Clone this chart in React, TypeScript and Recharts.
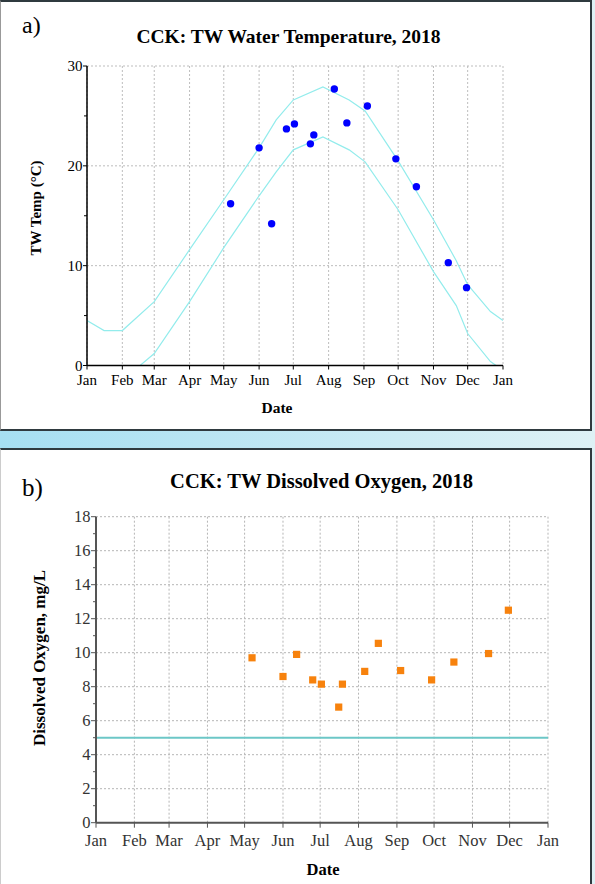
import React from "react"
import { ComposedChart, Line, Scatter, XAxis, YAxis, CartesianGrid, ReferenceLine } from "recharts"

const FONT = '"Liberation Serif", "Times New Roman", serif'

// month starts in day-of-year (2018), closing Jan = next year
const monthTicks = [0, 31, 59, 90, 120, 151, 181, 212, 243, 273, 304, 334, 365]
const monthNames = ["Jan", "Feb", "Mar", "Apr", "May", "Jun", "Jul", "Aug", "Sep", "Oct", "Nov", "Dec", "Jan"]

// sampling dates (day of year)
const sampleDays = [126, 151, 162, 175, 182, 196, 199, 217, 228, 246, 271, 289, 317, 333]
const waterTemp = [16.2, 21.8, 14.2, 23.7, 24.2, 22.2, 23.1, 27.7, 24.3, 26.0, 20.7, 17.9, 10.3, 7.8]
const dissolvedOxygen = [9.7, 8.6, 9.9, 8.4, 8.15, 6.8, 8.15, 8.9, 10.55, 8.95, 8.4, 9.45, 9.95, 12.5]

// expected temperature envelope
const envelopeDays = [0, 15, 31, 59, 90, 120, 151, 166, 181, 207, 230, 244, 273, 304, 324, 334, 354, 365]
const tempUpper = [4.5, 3.5, 3.5, 6.4, 11.6, 16.6, 21.8, 24.6, 26.6, 27.9, 26.6, 25.5, 20.5, 14.6, 10.5, 8.1, 5.4, 4.5]
const tempLower = [-0.5, -1.5, -1.5, 1.2, 6.4, 11.8, 17.0, 19.4, 21.6, 22.9, 21.6, 20.4, 15.6, 9.4, 6.0, 3.2, 0.4, -0.5]

const tempTicks = [0, 5, 10, 15, 20, 25, 30]
const tempGrid = [10, 20, 30]
const doTicks = [0, 1, 2, 3, 4, 5, 6, 7, 8, 9, 10, 11, 12, 13, 14, 15, 16, 17, 18]
const doGrid = [2, 4, 6, 8, 10, 12, 14, 16, 18]
const doStandard = 5

const tempPoints = sampleDays.map((d, i) => ({ day: d, v: waterTemp[i] }))
const doPoints = sampleDays.map((d, i) => ({ day: d, v: dissolvedOxygen[i] }))
const upperData = envelopeDays.map((d, i) => ({ day: d, v: tempUpper[i] }))
const lowerData = envelopeDays.map((d, i) => ({ day: d, v: tempLower[i] }))

const monthLabel = (v: number) => monthNames[monthTicks.indexOf(v)]

const makeYTick = (step: number, majorLen: number, minorLen: number, size: number, color: string, axis: string) =>
    (props: any) => {
        const { x, y, payload } = props
        const major = payload.value % step === 0
        const len = major ? majorLen : minorLen
        return (
            <g>
                <line x1={x} x2={x - len} y1={y} y2={y} stroke={axis} strokeWidth={1} />
                {major && (
                    <text x={x - majorLen - 0.5} y={y} dy="0.35em" textAnchor="end" fontSize={size} fontFamily={FONT} fill={color}>
                        {payload.value}
                    </text>
                )}
            </g>
        )
    }

const tempTick = makeYTick(10, 4, 3, 15, "#000", "#000")
const doTick = makeYTick(2, 5, 3, 16.5, "#333", "#555")

const blueDot = (p: any) => <circle cx={p.cx} cy={p.cy} r={3.7} fill="#0000ff" />
const orangeSquare = (p: any) => <rect x={p.cx - 3.6} y={p.cy - 3.6} width={7.2} height={7.2} fill="#f7820d" />

function TempChart() {
    return (
        <ComposedChart width={591} height={430} margin={{ top: 66, right: 88, bottom: 34.5, left: 47 }}>
            <CartesianGrid horizontal={false} stroke="#bdbdbd" strokeDasharray="2 2" />
            {tempGrid.map((v) => (
                <ReferenceLine key={v} y={v} stroke="#bdbdbd" strokeDasharray="2 2" />
            ))}
            <XAxis
                type="number"
                dataKey="day"
                domain={[0, 365]}
                ticks={monthTicks}
                interval={0}
                allowDataOverflow
                tickFormatter={monthLabel}
                axisLine={{ stroke: "#000", strokeWidth: 1.5 }}
                tickLine={{ stroke: "#000" }}
                tickSize={4}
                tickMargin={5}
                tick={{ fontSize: 15, fill: "#000", fontFamily: FONT }}
                height={30}
            />
            <YAxis
                type="number"
                dataKey="v"
                domain={[0, 30]}
                ticks={tempTicks}
                interval={0}
                allowDataOverflow
                width={40}
                axisLine={{ stroke: "#000", strokeWidth: 1.5 }}
                tickLine={false}
                tickSize={0}
                tickMargin={0}
                tick={tempTick}
            />
            <Line data={upperData} dataKey="v" type="linear" stroke="#93ecec" strokeWidth={1.2} dot={false} isAnimationActive={false} />
            <Line data={lowerData} dataKey="v" type="linear" stroke="#93ecec" strokeWidth={1.2} dot={false} isAnimationActive={false} />
            <Scatter data={tempPoints} dataKey="v" shape={blueDot} isAnimationActive={false} />
        </ComposedChart>
    )
}

function OxygenChart() {
    return (
        <ComposedChart width={591} height={435} margin={{ top: 67.7, right: 43, bottom: 31.3, left: 56 }}>
            <CartesianGrid horizontal={false} stroke="#b5b5b5" strokeDasharray="2 2" />
            {doGrid.map((v) => (
                <ReferenceLine key={v} y={v} stroke="#b5b5b5" strokeDasharray="2 2" />
            ))}
            <ReferenceLine y={doStandard} stroke="#6cc7c7" strokeWidth={2} />
            <XAxis
                type="number"
                dataKey="day"
                domain={[0, 365]}
                ticks={monthTicks}
                interval={0}
                allowDataOverflow
                tickFormatter={monthLabel}
                axisLine={{ stroke: "#555", strokeWidth: 2 }}
                tickLine={{ stroke: "#555" }}
                tickSize={5}
                tickMargin={6.5}
                tick={{ fontSize: 16.5, fill: "#333", fontFamily: FONT }}
                height={30}
            />
            <YAxis
                type="number"
                dataKey="v"
                domain={[0, 18]}
                ticks={doTicks}
                interval={0}
                allowDataOverflow
                width={40}
                axisLine={{ stroke: "#555", strokeWidth: 2 }}
                tickLine={false}
                tickSize={0}
                tickMargin={0}
                tick={doTick}
            />
            <Scatter data={doPoints} dataKey="v" shape={orangeSquare} isAnimationActive={false} />
        </ComposedChart>
    )
}

export default function App() {
    return (
        <div
            style={{
                position: "absolute",
                left: 0,
                top: 0,
                width: 595,
                height: 884,
                overflow: "hidden",
                background: "linear-gradient(to right, #a6dff2, #def1f5)",
            }}
        >
            <div
                style={{
                    position: "absolute", left: 0, top: 0, width: 592, height: 431, boxSizing: "border-box",
                    background: "#fff", border: "2px solid #2f3a3f", borderLeft: "1px solid #999",
                }}
            />
            <div
                style={{
                    position: "absolute", left: 0, top: 448, width: 592, height: 450, boxSizing: "border-box",
                    background: "#fff", border: "2px solid #2f3a3f", borderLeft: "1px solid #ccc",
                }}
            />
            <div style={{ position: "absolute", left: 0, top: 0 }}>
                <TempChart />
            </div>
            <div style={{ position: "absolute", left: 0, top: 449 }}>
                <OxygenChart />
            </div>
            <svg width={595} height={884} style={{ position: "absolute", left: 0, top: 0, pointerEvents: "none" }} fontFamily={FONT}>
                <text x={22} y={33} fontSize={24} fill="#000">a)</text>
                <text x={288.5} y={43} fontSize={19.5} fontWeight="bold" textAnchor="middle" fill="#000">
                    CCK: TW Water Temperature, 2018
                </text>
                <text x={40.5} y={208} fontSize={15} fontWeight="bold" textAnchor="middle" transform="rotate(-90 40.5 208)" fill="#000">
                    TW Temp (°C)
                </text>
                <text x={277} y={413} fontSize={15.5} fontWeight="bold" textAnchor="middle" fill="#000">Date</text>

                <text x={22} y={496} fontSize={25} fill="#000">b)</text>
                <text x={321.5} y={488} fontSize={20.5} fontWeight="bold" textAnchor="middle" fill="#000">
                    CCK: TW Dissolved Oxygen, 2018
                </text>
                <text x={45} y={658} fontSize={17} fontWeight="bold" textAnchor="middle" transform="rotate(-90 45 658)" fill="#000">
                    Dissolved Oxygen, mg/L
                </text>
                <text x={323} y={875} fontSize={16.5} fontWeight="bold" textAnchor="middle" fill="#000">Date</text>
            </svg>
        </div>
    )
}
